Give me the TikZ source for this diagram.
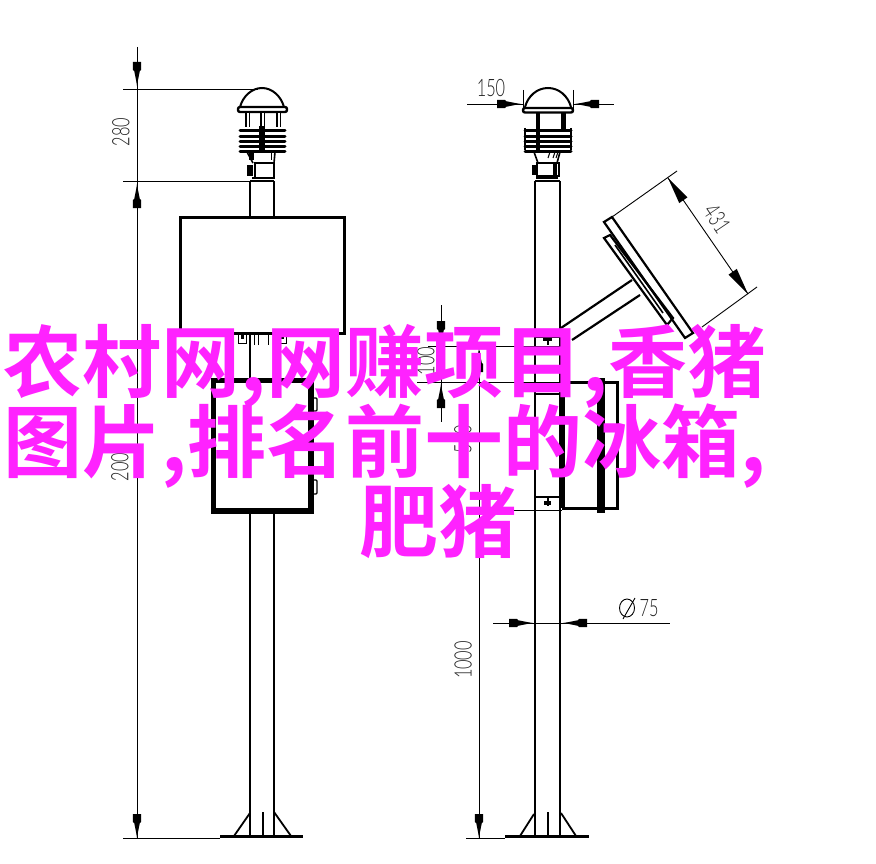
\documentclass[tikz,border=0pt]{standalone}
\usepackage{fontspec}
\setmainfont{Lato Light}
\newfontfamily\cjkbold{Noto Sans CJK SC Bold}
\usepackage{graphicx}
\definecolor{wm}{HTML}{FF22FF}
\definecolor{dimtext}{HTML}{222222}
\newcommand{\dimtxt}[1]{\scalebox{0.68}[1]{#1}}
\tikzset{
  x=1pt,y=-1pt,
  thin line/.style={line width=0.9pt,black},
  mid line/.style={line width=1.6pt,black},
  pole line/.style={line width=2.2pt,black},
  thick line/.style={line width=3pt,black},
  dimlabel/.style={inner sep=0pt,font=\fontsize{24}{24}\selectfont,text=dimtext},
  banner/.style={inner sep=0pt,text=wm,font=\cjkbold\fontsize{79}{79}\selectfont,anchor=center},
  darrow/.pic={\fill[black] (0,0) -- (-6,-1) -- (-15,-2.8) -- (-16,-4.2) -- (-24,-4.2) -- (-24,4.2) -- (-16,4.2) -- (-15,2.8) -- (-6,1) -- cycle;},
  farrow/.pic={\fill[black] (0,0) -- (-27,-5) -- (-27,5) -- cycle;}
}
\newcommand{\sensorvents}[3]{%
  \foreach \k in {0,1,2,3,4}{
    \draw[line width=3pt,line cap=round] (#1+1,#3+2+\k*5.2) -- (#2-1,#3+2+\k*5.2);
  }
}
\begin{document}
\begin{tikzpicture}
\useasboundingbox (0,0) rectangle (876,864);
\fill[white] (0,0) rectangle (876,864);

% ---------- left pole
\draw[pole line] (250,181) -- (250,217);
\draw[pole line] (274,181) -- (274,217);
\draw[pole line] (250,181) -- (274,181);
\draw[pole line] (250,333) -- (250,380);
\draw[pole line] (274,510) -- (274,838);
\draw[pole line] (250,510) -- (250,838);
% left sensor
\draw[line width=2pt] (240,107) .. controls (243,96) and (252,88) .. (262,88) .. controls (272,88) and (281,96) .. (284,107);
\draw[line width=2.4pt,rounded corners=2pt] (238,107) -- (287,107) -- (287,112) -- (238,112) -- cycle;
\fill (245,113) rectangle (250,127);
\fill[white] (246.6,113) rectangle (248.6,127);
\fill (260,113) rectangle (265,127);
\fill[white] (261.6,113) rectangle (263.6,127);
\fill (276,113) rectangle (281,127);
\fill[white] (277.6,113) rectangle (279.6,127);
\sensorvents{239}{286}{129}
\fill (259,126) rectangle (265,152);
\draw[mid line] (247,152) -- (253,163);
\draw[mid line] (275,152) -- (274,163);
\fill (249,152) rectangle (254,160);
\draw[line width=1pt] (271,152) -- (271,160) (274,152) -- (274,160);
\draw[mid line] (255,163) rectangle (274,178);
\fill (247,165) rectangle (253,176);
\draw[line width=2pt] (252,178.5) -- (274,178.5);

% upper box
\draw[thick line] (180,217) rectangle (344,333);
\draw[line width=1pt] (344,333) -- (346,333);
% terminals under upper box
\draw[line width=1pt] (238,335) -- (238,343) -- (246,343) -- (246,335)
  (254,335) -- (254,345) (258,345) -- (258,335) (268,335) -- (268,345)
  (278,335) -- (278,343) -- (286,343) -- (286,335);
\fill (241,335) rectangle (244,339);
\fill (281,335) rectangle (284,339);

% lower box
\draw[line width=5.5pt] (213.5,380.5) rectangle (311,511);
\draw[line width=1.4pt,rounded corners=1pt] (313,398) -- (317,398) -- (317,411) -- (313,411);
\draw[line width=1.4pt,rounded corners=1pt] (313,480) -- (317,480) -- (317,494) -- (313,494);

% left base
\draw[line width=3.5pt] (220,836.5) -- (303,836.5);
\draw[line width=1.8pt] (250,813) -- (234,836) (274,812) -- (291,836);
\draw[line width=2.4pt] (263,812) -- (263,836);
\draw[line width=1pt] (123,838.5) -- (220,838.5);

% left dimensions
\draw[thin line] (137,47) -- (137,838);
\draw[thin line] (123,89) -- (258,89);
\draw[thin line] (123,181) -- (250,181);
\pic[rotate=-90] at (137,86) {darrow};
\pic[rotate=90] at (137,184) {darrow};
\pic[rotate=-90] at (137,838) {darrow};
\node[dimlabel,rotate=90] (t280) at (121,132) {\dimtxt{280}};
\node[dimlabel,rotate=90] (t200) at (120,467) {\dimtxt{200}};

% ---------- right pole
\draw[pole line] (535,181) -- (535,838);
\draw[pole line] (560,181) -- (560,838);
\draw[pole line] (535,181) -- (560,181);
% right sensor
\draw[line width=2pt] (525,107) .. controls (528,96) and (537,88) .. (548,88) .. controls (559,88) and (568,96) .. (571,107);
\draw[line width=2.4pt,rounded corners=2pt] (523,108) -- (573,108) -- (573,112.5) -- (523,112.5) -- cycle;
\fill (535.5,113) rectangle (540,129);
\fill (561,113) rectangle (565.5,129);
\sensorvents{524}{572}{129}
\draw[line width=1.4pt] (525,128) -- (525,150) (571,128) -- (571,150);
\fill (536,126) rectangle (540,150);
\draw[mid line] (534,152) -- (538,163) (560,152) -- (557,163);
\draw[line width=1pt] (550,152) -- (548,158) (555,152) -- (553,158) (558,152) -- (556,158);
\draw[mid line] (537,163) rectangle (559,176);
\fill (532,165) rectangle (537,175);
\fill (553,163) rectangle (557,176);
\draw[line width=1.5pt] (536,178) -- (558,178);

% dim 150
\draw[thin line] (523,90) -- (523,110) (573,90) -- (573,110);
\draw[thin line] (467,104) -- (523,104) (573,104) -- (614,104);
\pic at (521,104) {darrow};
\pic[rotate=180] at (575,104) {darrow};
\node[dimlabel] (t150) at (491,88.5) {\dimtxt{150}};

% solar panel arm
\draw[pole line] (561,328) -- (632,280);
\draw[pole line] (572,340) -- (640,295);
% rear plate
\draw[pole line] (604,238) -- (610,235) -- (673,318) -- (667,325) -- cycle;
\draw[mid line] (615,245) -- (663,313);
% front plate
\draw[pole line] (604,222) -- (612,217) -- (693,333) -- (685,338) -- cycle;
% dim 431
\draw[thin line] (612,217) -- (677,171);
\draw[thin line] (702,327) -- (757,287);
\draw[thin line] (668,178) -- (748,294);
\pic[rotate=124.6] at (668,178) {farrow};
\pic[rotate=-55.4] at (748,294) {farrow};
\node[dimlabel,rotate=-56] (t431) at (717,219) {\dimtxt{431}};

% right side box
\draw[thick line] (562,382) -- (617,382) -- (617,508) -- (562,508);
\draw[line width=5pt] (562,382) -- (562,508);
\fill (597,378) rectangle (605,513);
% clamps
\draw[thin line] (535,337) -- (560,337);
\draw[thin line] (535,346) -- (560,346);
\fill (543,338) rectangle (552,341);
\fill (546.5,341) rectangle (549,345);
\draw[mid line] (535,394) -- (560,394);
\draw[mid line] (535,497) -- (560,497);
\fill (544,501) rectangle (551,505);
\fill (546.5,497) rectangle (549,506);
\draw[thin line] (535,510) -- (560,510);

% right dimensions
\draw[thin line] (428,346) -- (535,346);
\draw[thin line] (417,382) -- (562,382);
\draw[thin line] (479,510) -- (562,510);
\draw[thin line] (441,305) -- (441,422);
\pic[rotate=-90] at (441,345) {darrow};
\pic[rotate=90] at (441,384) {darrow};
\draw[thin line] (479,351) -- (479,838);
\pic[rotate=90] at (479,348) {darrow};
\pic[rotate=-90] at (479,838) {darrow};
\node[dimlabel,rotate=90] (t100) at (426,361) {\dimtxt{100}};
\node[dimlabel,rotate=90] (t500) at (463,439) {\dimtxt{500}};
\node[dimlabel,rotate=90] (t1000) at (463,660) {\dimtxt{1000}};

% dim phi 75
\draw[thin line] (493,623) -- (670,623);
\pic at (533,623) {darrow};
\pic[rotate=180] at (563,623) {darrow};
\draw[thin line] (635,598) -- (623,619);
\draw[thin line] (627,608) ellipse (7.5 and 9);
\node[dimlabel] (t75) at (649,608) {\dimtxt{75}};

% right base
\draw[line width=3.5pt] (505,836.5) -- (589,836.5);
\draw[line width=1.8pt] (534,814) -- (520,836) (561,813) -- (576,836);
\draw[line width=2.4pt] (548,812) -- (548,836);
\draw[line width=1pt] (466,838.5) -- (505,838.5);

% ---------- banner
\node[banner] (l1) at (385,366) {农村网,网赚项目,香猪};
\node[banner] (l2) at (385,446) {图片,排名前十的冰箱,};
\node[banner] (l3) at (438,522) {肥猪};
\end{tikzpicture}
\end{document}
